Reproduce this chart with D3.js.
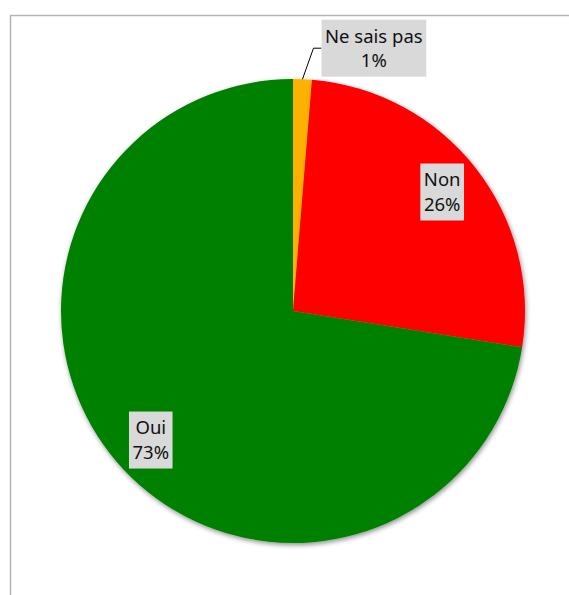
<!DOCTYPE html>
<html>
<head>
<meta charset="utf-8">
<script src="https://cdn.jsdelivr.net/npm/d3@7"></script>
<style>
  html, body { margin: 0; padding: 0; background: #fff; }
  svg { display: block; }
</style>
</head>
<body>
<svg id="chart" width="569" height="595"></svg>
<script>
// ---- data ----
const categories = ["Ne sais pas", "Non", "Oui"];
const values = [1.3, 26.2, 72.5];
const colors = ["#ffb000", "#ff0000", "#008000"];

// ---- layout ----
const W = 569, H = 595;
const cx = 293, cy = 311, R = 232;
const labelR = 191;

const svg = d3.select("#chart");

// frame (chart area border, extends beyond window)
svg.append("rect")
  .attr("x", 10.5).attr("y", 15.5)
  .attr("width", W + 20).attr("height", H + 20)
  .attr("fill", "none")
  .attr("stroke", "#b4b4b4")
  .attr("stroke-width", 1.5);

const defs = svg.append("defs");
const f = defs.append("filter").attr("id", "shadow")
  .attr("x", "-10%").attr("y", "-10%").attr("width", "120%").attr("height", "120%");
f.append("feGaussianBlur").attr("in", "SourceAlpha").attr("stdDeviation", 2.5).attr("result", "b");
f.append("feOffset").attr("in", "b").attr("dx", 1).attr("dy", 2).attr("result", "o");
f.append("feComponentTransfer").attr("in", "o").attr("result", "s")
  .append("feFuncA").attr("type", "linear").attr("slope", 0.45);
const m = f.append("feMerge");
m.append("feMergeNode").attr("in", "s");
m.append("feMergeNode").attr("in", "SourceGraphic");

const pie = d3.pie().sort(null).value(d => d)(values);
const arc = d3.arc().innerRadius(0).outerRadius(R);
const labelArc = d3.arc().innerRadius(labelR).outerRadius(labelR);

const g = svg.append("g").attr("transform", `translate(${cx},${cy})`);

g.append("g").attr("filter", "url(#shadow)")
  .selectAll("path")
  .data(pie)
  .join("path")
  .attr("d", arc)
  .attr("fill", (d, i) => colors[i]);

// labels
const fontFamily = "'Noto Sans', sans-serif";
const fontSize = 18.5;
const lineH = 24.5;

function drawLabel(x, y, lines) {
  const lg = g.append("g").attr("transform", `translate(${x},${y})`);
  const t = lg.append("text")
    .attr("text-anchor", "middle")
    .attr("font-family", fontFamily)
    .attr("font-size", fontSize)
    .attr("fill", "#111");
  lines.forEach((s, k) => {
    t.append("tspan").attr("x", 0)
      .attr("y", (k - (lines.length - 1) / 2) * lineH + fontSize * 0.36)
      .text(s);
  });
  const bb = t.node().getBBox();
  const padX = 3.5;
  lg.insert("rect", "text")
    .attr("x", bb.x - padX).attr("y", -28.5)
    .attr("width", bb.width + 2 * padX).attr("height", 57)
    .attr("fill", "#d9d9d9");
  return lg;
}

pie.forEach((d, i) => {
  const lines = [categories[i], Math.round(values[i]) + "%"];
  if (i === 0) {
    // outside label with leader line
    const mid = (d.startAngle + d.endAngle) / 2;
    const rimX = Math.sin(mid) * R, rimY = -Math.cos(mid) * R;
    const elbowX = rimX + 11, elbowY = rimY - 31;
    const boxLeft = elbowX + 8;
    g.append("polyline")
      .attr("points", [[rimX, rimY], [elbowX, elbowY], [boxLeft, elbowY]].map(p => p.join(",")).join(" "))
      .attr("fill", "none").attr("stroke", "#000").attr("stroke-width", 1);
    const lg = drawLabel(0, 0, lines);
    const bw = +lg.select("rect").attr("width");
    lg.attr("transform", `translate(${boxLeft + bw / 2},${elbowY})`);
  } else {
    const [lx, ly] = labelArc.centroid(d);
    drawLabel(lx + (i === 2 ? 3 : -1), ly + (i === 2 ? 5 : -1), lines);
  }
});
</script>
</body>
</html>
